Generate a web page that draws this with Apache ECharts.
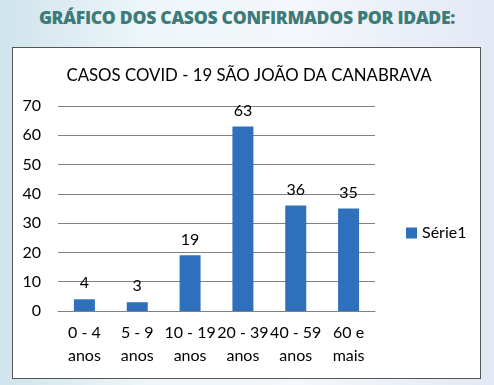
<!DOCTYPE html>
<html><head><meta charset="utf-8">
<script src="https://cdn.jsdelivr.net/npm/echarts@6/dist/echarts.min.js"></script>
<style>
html,body{margin:0;padding:0;}
body{width:494px;height:385px;overflow:hidden;background:linear-gradient(90deg,#cfe4ec 0%,#eef6f9 30%,#f4f7fb 60%,#e3e8f5 100%);position:relative;font-family:Lato,"Open Sans",sans-serif;}
#hdr{position:absolute;left:0;top:5px;width:494px;text-align:center;font-family:"Open Sans",sans-serif;font-weight:800;font-size:17.6px;color:#3d7b79;letter-spacing:-0.3px;}
#box{position:absolute;left:12px;top:47px;width:467px;height:330px;background:#fff;border:1px solid #555;}
#chart{position:absolute;left:0;top:0;width:494px;height:385px;}
</style></head><body>
<div id="hdr">GRÁFICO DOS CASOS CONFIRMADOS POR IDADE:</div>
<div id="box"></div>
<div id="chart"></div>
<script>
const categories = ["0 - 4\nanos","5 - 9\nanos","10 - 19\nanos","20 - 39\nanos","40 - 59\nanos","60 e\nmais"];
const values = [4,3,19,63,36,35];
const seriesName = "Série1";
const titleText = "CASOS COVID - 19 SÃO JOÃO DA CANABRAVA";

const chart = echarts.init(document.getElementById('chart'), null, {renderer:'canvas'});
chart.setOption({
  animation:false,
  backgroundColor:'transparent',
  textStyle:{fontFamily:'Lato'},
  title:{text:titleText,left:244,textAlign:'center',top:62,textStyle:{fontFamily:'Lato',fontWeight:'normal',fontSize:16.8,color:'#000'}},
  legend:{left:401,top:220,itemWidth:11,itemHeight:11,itemGap:4,icon:'rect',textStyle:{fontFamily:'Lato',fontSize:16,color:'#000'},data:[seriesName]},
  grid:{left:58,right:119,top:106,bottom:74,containLabel:false},
  xAxis:{type:'category',data:categories,
    axisLine:{lineStyle:{color:'#808080',width:1}},axisTick:{show:false},
    axisLabel:{fontFamily:'Lato',fontSize:16,color:'#000',lineHeight:23,margin:10,interval:0}},
  yAxis:{type:'value',min:0,max:70,interval:10,
    axisLine:{show:false},axisTick:{show:false},
    splitLine:{lineStyle:{color:'#808080',width:1}},
    axisLabel:{fontFamily:'Lato',fontSize:16,color:'#000',margin:17}},
  series:[{name:seriesName,type:'bar',data:values,barWidth:21,
    itemStyle:{color:'#2f70bd'},
    label:{show:true,position:'top',distance:8,fontFamily:'Lato',fontSize:16,color:'#000'}}]
});
</script>
</body></html>
